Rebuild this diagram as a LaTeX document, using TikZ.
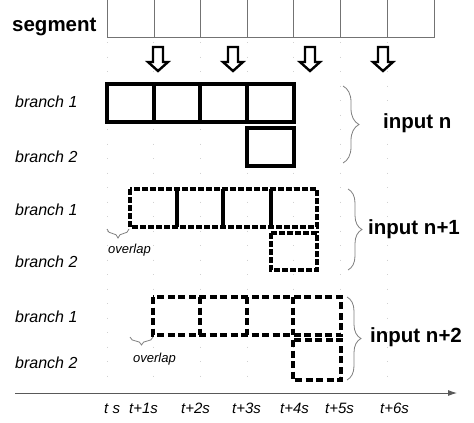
\documentclass[tikz,border=0pt]{standalone}
\usepackage{fontspec}
\setmainfont{Liberation Sans}
\usetikzlibrary{arrows.meta,decorations.pathreplacing}
\tikzset{
  lbl/.style={font=\itshape\fontsize{16}{16}\selectfont, inner sep=0pt, anchor=base west},
  inp/.style={font=\bfseries\fontsize{20.5}{20.5}\selectfont, inner sep=0pt, anchor=base west},
  tlbl/.style={font=\itshape\fontsize{15}{15}\selectfont, inner sep=0pt, anchor=base west},
  ovl/.style={font=\itshape\fontsize{13}{13}\selectfont, inner sep=0pt, anchor=base west},
  boxA/.style={line width=3.2pt},
  boxB/.style={line width=3.2pt, dash pattern=on 6pt off 2pt},
  boxC/.style={line width=3.2pt, dash pattern=on 7pt off 3.5pt},
  brc/.style={draw=gray, line width=0.8pt, decorate, decoration={brace, amplitude=#1}},
  brc/.default=15pt,
  harrow/.style={line width=2.4pt, line join=miter},
  segline/.style={draw=black!55, line width=0.9pt},
  griddot/.style={draw=black!18, line width=0.9pt, dash pattern=on 0.9pt off 13.6pt},
}
\begin{document}
\begin{tikzpicture}[x=1pt,y=-1pt]
\useasboundingbox (0,0) rectangle (474,423);
\fill[white] (0,0) rectangle (474,423);
% faint grid dots
\foreach \gx in {107,153.7,200.4,247.1,293.8,340.5,387.2}
  \draw[griddot] (\gx,42) -- (\gx,386);
% segment strip
\draw[segline] (107,0) -- (107,37) -- (434,37) -- (434,0);
\foreach \sx in {154,200,247,293,340,387}
  \draw[segline] (\sx,0) -- (\sx,37);
\node[inp, anchor=base west] (seg) at (12,31) {segment};
% hollow arrows
\foreach \c in {158,233,310,383}
  \draw[harrow] ({\c-5},47) -- ({\c+5},47) -- ({\c+5},62) -- ({\c+10},62) -- (\c,71) -- ({\c-10},62) -- ({\c-5},62) -- cycle;
% input n
\draw[boxA] (107,84) rectangle (294,122);
\foreach \dx in {154,200,247} \draw[boxA] (\dx,84) -- (\dx,122);
\draw[boxA] (247,128) rectangle (294,166);
\node[lbl] (b1n) at (15,107) {branch 1};
\node[lbl] (b2n) at (15,162) {branch 2};
\coordinate (bnT) at (343,86);
\coordinate (bnB) at (343,163);
\draw[brc=16pt] (bnT) -- (bnB);
\node[inp] (inn) at (383,128) {input n};
% input n+1
\draw[boxB] (130,189) rectangle (317,227);
\foreach \dx in {177,223,271} \draw[boxA] (\dx,189) -- (\dx,227);
\draw[boxB] (271,233) rectangle (317,270);
\node[lbl] (b1m) at (15,215) {branch 1};
\node[lbl] (b2m) at (15,267) {branch 2};
\coordinate (bmT) at (348,189);
\coordinate (bmB) at (348,270);
\draw[brc=14pt] (bmT) -- (bmB);
\node[inp] (inm) at (368,234) {input n+1};
\coordinate (omL) at (107,229);
\coordinate (omR) at (129,229);
\draw[brc=9pt] (omR) -- (omL);
\node[ovl] (ovm) at (108,253) {overlap};
% input n+2
\draw[boxC] (153,297) rectangle (341,335);
\foreach \dx in {200,247,293} \draw[boxC] (\dx,297) -- (\dx,335);
\draw[boxC] (293,340) rectangle (341,380);
\node[lbl] (b1k) at (15,322) {branch 1};
\node[lbl] (b2k) at (15,368) {branch 2};
\coordinate (bkT) at (347,297);
\coordinate (bkB) at (347,380);
\draw[brc=14pt] (bkT) -- (bkB);
\node[inp] (ink) at (370,342) {input n+2};
\coordinate (okL) at (130,337);
\coordinate (okR) at (153,337);
\draw[brc=8pt] (okR) -- (okL);
\node[ovl] (ovk) at (133,362) {overlap};
% time axis
\coordinate (axL) at (15,393);
\coordinate (axR) at (457,393);
\draw[draw=black!65, line width=0.9pt, -{Latex[length=9pt,width=6pt]}] (axL) -- (axR);
\node[tlbl] (t0) at (104,413) {t s};
\node[tlbl] (t1) at (129,413) {t+1s};
\node[tlbl] (t2) at (181,413) {t+2s};
\node[tlbl] (t3) at (232,413) {t+3s};
\node[tlbl] (t4) at (280,413) {t+4s};
\node[tlbl] (t5) at (325,413) {t+5s};
\node[tlbl] (t6) at (380,413) {t+6s};
\end{tikzpicture}
\end{document}
